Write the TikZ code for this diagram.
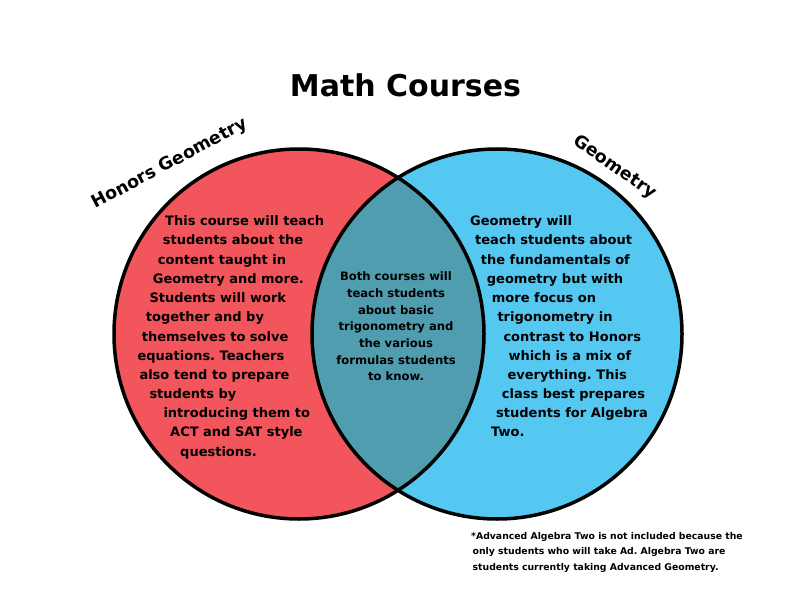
\documentclass[tikz,border=0pt]{standalone}
\usepackage{fontspec}
\setmainfont{DejaVu Sans}
\frenchspacing
\definecolor{honred}{RGB}{242,85,92}
\definecolor{geoblue}{RGB}{85,200,242}
\definecolor{bothteal}{RGB}{80,157,176}

\begin{document}
\begin{tikzpicture}[x=1pt, y=-1pt,
    ringline/.style={draw=black, line width=3.5pt},
    sidetext/.style={anchor=base west, inner sep=0pt, font=\bfseries\fontsize{13}{19}\selectfont},
    midtext/.style={anchor=base, inner sep=0pt, font=\bfseries\fontsize{11.6}{16}\selectfont},
    ringlabel/.style={anchor=base, inner sep=0pt, font=\bfseries\fontsize{17.5}{20}\selectfont},
    notetext/.style={anchor=base west, inner sep=0pt, font=\bfseries\fontsize{9.3}{11}\selectfont}]
    \useasboundingbox (0,0) rectangle (792,612);
    \coordinate (hon) at (299,334);
    \coordinate (geo) at (497,334);
    \fill[honred] (hon) circle (185);
    \fill[geoblue] (geo) circle (185);
    \begin{scope}
        \clip (hon) circle (185);
        \fill[bothteal] (geo) circle (185);
    \end{scope}
    \draw[ringline] (hon) circle (185);
    \draw[ringline] (geo) circle (185);
    \node[anchor=base, inner sep=0pt, font=\bfseries\fontsize{30}{36}\selectfont] (title) at (405.5,97) {Math Courses};
    \node[ringlabel, rotate=28] (honlabel) at (172,168) {Honors Geometry};
    \node[ringlabel, rotate=-35] (geolabel) at (612,171) {Geometry};
    \foreach \tx/\ty/\words [count=\i] in {165/226/This course will teach, 162.7/245/students about the,
        157.7/264.5/content taught in, 152.7/283.5/Geometry and more., 149.3/302.5/Students will work,
        145.7/321.5/together and by, 141.7/341/themselves to solve, 137.3/360/equations. Teachers,
        139.3/379/also tend to prepare, 149.3/398/students by, 163.3/417.5/introducing them to,
        170/436.5/ACT and SAT style, 180/456/questions.}
        \node[sidetext] (hon\i) at (\tx,\ty) {\words};
    \foreach \tx/\ty/\words [count=\i] in {470/226/Geometry will, 475/245/teach students about,
        480.7/264.5/the fundamentals of, 486.7/283.5/geometry but with, 491.7/302.5/more focus on,
        497.3/321.5/trigonometry in, 503.3/341/contrast to Honors, 508.3/360/which is a mix of,
        507.3/379/everything. This, 501.7/398/class best prepares, 496/417.5/students for Algebra,
        491/436.5/Two.}
        \node[sidetext] (geo\i) at (\tx,\ty) {\words};
    \foreach \ty/\words [count=\i] in {280.7/Both courses will, 297/teach students, 314/about basic,
        330.7/trigonometry and, 347.3/the various, 364/formulas students, 380.7/to know.}
        \node[midtext] (both\i) at (396,\ty) {\words};
    \foreach \tx/\ty/\words [count=\i] in {471/539/*Advanced Algebra Two is not included because the,
        472.5/554.5/only students who will take Ad. Algebra Two are,
        472.5/570/students currently taking Advanced Geometry.}
        \node[notetext] (note\i) at (\tx,\ty) {\words};
\end{tikzpicture}
\end{document}
